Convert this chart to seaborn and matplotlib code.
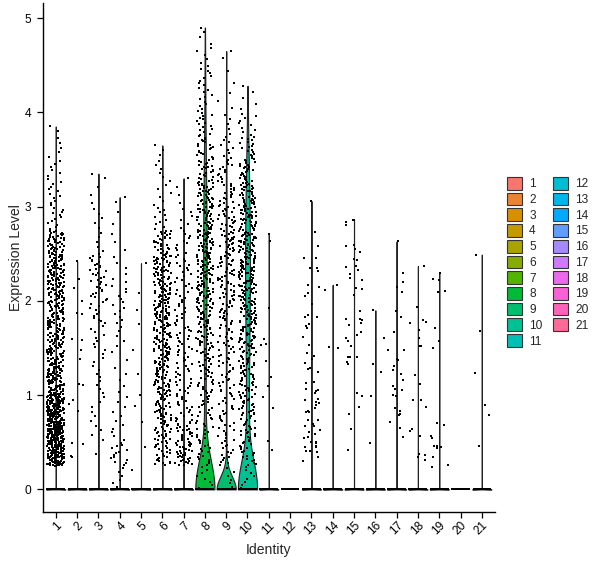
import numpy as np
import pandas as pd
import matplotlib
matplotlib.use("Agg")
import matplotlib.pyplot as plt
from matplotlib.patches import Patch
import seaborn as sns

# ---------------- data ----------------
clusters = [str(i) for i in range(1, 22)]

# number of cells with zero expression per cluster
zero_counts = [5000, 1500, 1500, 1400, 1300, 1800, 1200, 650, 640, 480,
               600, 500, 500, 400, 400, 300, 300, 250, 250, 200, 150]

# dense clusters: counts of non-zero cells per 0.25-wide expression bin (from 0)
bin_width = 0.25
dense_bins = {
    "1": [0, 120, 150, 110, 70, 60, 55, 50, 55, 60, 45, 12, 10, 8, 5, 2],
    "3": [0, 1, 5, 5, 6, 6, 8, 12, 16, 18, 5, 5, 3, 2],
    "4": [6, 14, 6, 5, 4, 3, 5, 8, 7, 4, 3, 2, 2],
    "6": [0, 25, 30, 35, 40, 40, 45, 45, 45, 45, 30, 10, 6, 6, 3],
    "7": [0, 35, 25, 15, 15, 15, 15, 12, 12, 12, 10, 6, 3, 1],
    "8": [8, 15, 15, 15, 20, 22, 28, 35, 40, 42, 42, 40, 35, 25, 20, 15, 10, 10, 6, 3],
    "9": [6, 14, 14, 14, 15, 16, 18, 20, 22, 24, 24, 22, 18, 14, 9, 5, 3, 2, 2],
    "10": [8, 18, 22, 25, 28, 30, 35, 40, 45, 45, 45, 40, 35, 28, 18, 10, 4, 1],
}
dense_max = {"1": 3.85, "3": 3.35, "4": 3.1, "6": 3.65, "7": 3.3,
             "8": 4.9, "9": 4.65, "10": 4.28}

# sparse clusters: individual non-zero values
sparse_values = {
    "2": [2.42, 2.23, 2.14, 2.0, 1.87, 1.86, 1.6, 1.59, 1.48, 1.38, 1.12, 1.11,
          0.95, 0.91, 0.83, 0.49, 0.48, 0.35, 0.34],
    "5": [2.4, 2.08, 1.9, 1.75, 1.48, 1.22, 1.0, 0.88, 0.72, 0.45, 0.21],
    "11": [2.71, 2.64, 1.92, 1.60, 1.54, 1.53, 1.36, 1.19, 1.10, 0.98, 0.86, 0.51, 0.42],
    "12": [],
    "13": [3.06, 2.73, 2.58, 2.45, 2.45, 2.35, 2.32, 2.35, 2.15, 2.17, 2.08, 2.05, 1.97,
           1.83, 1.85, 1.83, 1.75, 1.73, 1.71, 1.62, 1.53, 1.45, 1.41, 1.38, 1.34, 1.29,
           1.28, 1.25, 1.14, 1.13, 1.06, 1.05, 1.02, 1.04, 0.96, 0.95, 0.92, 0.93, 0.89,
           0.86, 0.83, 0.82, 0.82, 0.74, 0.74, 0.69, 0.67, 0.67, 0.63, 0.61, 0.59, 0.56,
           0.54, 0.50, 0.49, 0.50, 0.46, 0.45, 0.45, 0.40, 0.34, 0.30, 0.41, 0.41],
    "14": [2.17, 2.12, 1.51, 1.50],
    "15": [2.86, 2.86, 2.84, 2.80, 2.59, 2.58, 2.55, 2.52, 2.44, 2.43, 2.37, 2.36, 2.33,
           2.29, 2.24, 2.22, 2.14, 2.13, 2.06, 1.89, 1.80, 1.81, 1.81, 1.77, 1.74, 1.67,
           1.64, 1.61, 1.57, 1.52, 1.40, 1.40, 1.40, 1.35, 1.33, 1.02, 0.99, 0.87, 0.80,
           0.64, 0.42],
    "16": [1.90, 1.61, 1.33, 1.25, 0.99, 0.49],
    "17": [2.63, 2.30, 2.20, 2.15, 2.09, 1.89, 1.83, 1.67, 1.48, 1.48, 1.38, 1.37, 1.31,
           1.27, 1.22, 1.16, 1.10, 1.07, 1.05, 1.00, 0.99, 0.86, 0.83, 0.80, 0.79, 0.72,
           0.65, 0.56],
    "18": [2.37, 1.94, 1.80, 1.77, 1.78, 1.69, 1.61, 1.52, 1.52, 1.21, 1.12, 0.95, 0.95,
           0.87, 0.64, 0.62, 0.57, 0.38, 0.36, 0.34, 0.31],
    "19": [2.30, 2.23, 2.22, 2.10, 2.09, 1.71, 1.57, 1.50, 0.70, 0.68, 0.57, 0.54, 0.46,
           0.46, 0.45, 0.44, 0.34, 0.26, 0.24],
    "20": [],
    "21": [2.49, 1.68, 1.23, 0.90, 0.79, 0.46],
}


def bins_to_values(counts, vmax):
    vals = []
    last = max(i for i, c in enumerate(counts) if c > 0)
    for i, c in enumerate(counts):
        if c == 0:
            continue
        lo = i * bin_width
        if i == last:
            v = np.linspace(lo, vmax, c + 1)[1:]
        else:
            v = lo + (np.arange(c) + 0.5) * bin_width / c
        vals.extend(v.tolist())
    return vals


rows_c, rows_v = [], []
for cl, n0 in zip(clusters, zero_counts):
    if cl in dense_bins:
        nz = bins_to_values(dense_bins[cl], dense_max[cl])
    else:
        nz = sparse_values[cl]
    vals = [0.0] * n0 + list(nz)
    rows_c += [cl] * len(vals)
    rows_v += vals
df = pd.DataFrame({"cluster": rows_c, "expr": rows_v})


# ggplot-like hue palette (hcl, c=100, l=65)
def hcl_hex(h, c=100.0, l=65.0):
    hr = np.deg2rad(h)
    U, V = c * np.cos(hr), c * np.sin(hr)
    Y = 100.0 * ((l + 16) / 116) ** 3
    u = U / (13 * l) + 0.1978398
    v = V / (13 * l) + 0.4683363
    X = 9.0 * Y * u / (4 * v)
    Z = -X / 3 - 5 * Y + 3 * Y / v
    X, Y, Z = X / 100, Y / 100, Z / 100
    rgb = [3.240479 * X - 1.537150 * Y - 0.498535 * Z,
           -0.969256 * X + 1.875992 * Y + 0.041556 * Z,
           0.055648 * X - 0.204043 * Y + 1.057311 * Z]
    out = []
    for t in rgb:
        t = 1.055 * t ** (1 / 2.4) - 0.055 if t > 0.00304 else 12.92 * t
        out.append(min(max(t, 0), 1))
    return tuple(out)


hues = np.linspace(15, 375, 22)[:21]
palette = [hcl_hex(h) for h in hues]


# R's bw.nrd0 (with Seurat's tiny noise behaviour when IQR collapses)
def nrd0(kde):
    x = np.asarray(kde.dataset).ravel()
    sd = x.std(ddof=1)
    if sd == 0:
        return 1.0
    q75, q25 = np.percentile(x, [75, 25])
    lo = min(sd, (q75 - q25) / 1.34)
    if lo <= 0:
        lo = 1e-4
    return 0.9 * lo * len(x) ** (-0.2) / sd


# ---------------- plot ----------------
sns.set_style("ticks")
plt.rcParams["font.family"] = ["Liberation Sans", "DejaVu Sans"]

fig = plt.figure(figsize=(6.0, 5.68), dpi=100)
ax = fig.add_axes([43 / 600, 56 / 568, (494.6 - 43) / 600, (565 - 56) / 568])

nonempty = [c for c in clusters if (df.loc[df.cluster == c, "expr"] > 0).any()]
vdf = df[df.cluster.isin(nonempty)]
sns.violinplot(data=vdf, x="cluster", y="expr", hue="cluster", order=clusters,
               hue_order=clusters, palette=palette, density_norm="width", cut=0,
               inner=None, width=0.9, bw_method=nrd0, gridsize=512, linewidth=0.8,
               linecolor="#222222", saturation=1, legend=False, ax=ax)

np.random.seed(3)
sns.stripplot(data=df, x="cluster", y="expr", order=clusters, color="black",
              size=1.55, marker="s", linewidth=0, jitter=0.4, ax=ax, zorder=3)

ax.set_xlim(-0.6, 20.6)
ax.set_ylim(-0.24, 5.16)
ax.set_yticks([0, 1, 2, 3, 4, 5])
ax.set_yticklabels(["0", "1", "2", "3", "4", "5"])
for s in ["top", "right"]:
    ax.spines[s].set_visible(False)
for s in ["left", "bottom"]:
    ax.spines[s].set_linewidth(1.0)
    ax.spines[s].set_color("black")
ax.tick_params(length=4, width=0.9, colors="black", labelsize=8.6)
ax.tick_params(axis="y", pad=4.5)
ax.tick_params(axis="x", pad=1.5)
for lab in ax.get_xticklabels():
    lab.set_rotation(45)
    lab.set_ha("right")
    lab.set_va("top")
    lab.set_rotation_mode("anchor")
ax.set_xlabel("Identity", fontsize=10.1, labelpad=4)
ax.set_ylabel("Expression Level", fontsize=10.1, labelpad=1)

handles = [Patch(facecolor=palette[i], edgecolor="#333333", linewidth=0.8)
           for i in range(21)]
fig.legend(handles, clusters, ncol=2, loc="upper left",
           bbox_to_anchor=(507 / 600, 1 - 177 / 568), frameon=False, fontsize=8.6,
           handlelength=1.25, handleheight=1.25, handletextpad=0.6, labelspacing=0.2,
           columnspacing=0.9, borderaxespad=0, borderpad=0)

fig.savefig("out.png", dpi=100)
